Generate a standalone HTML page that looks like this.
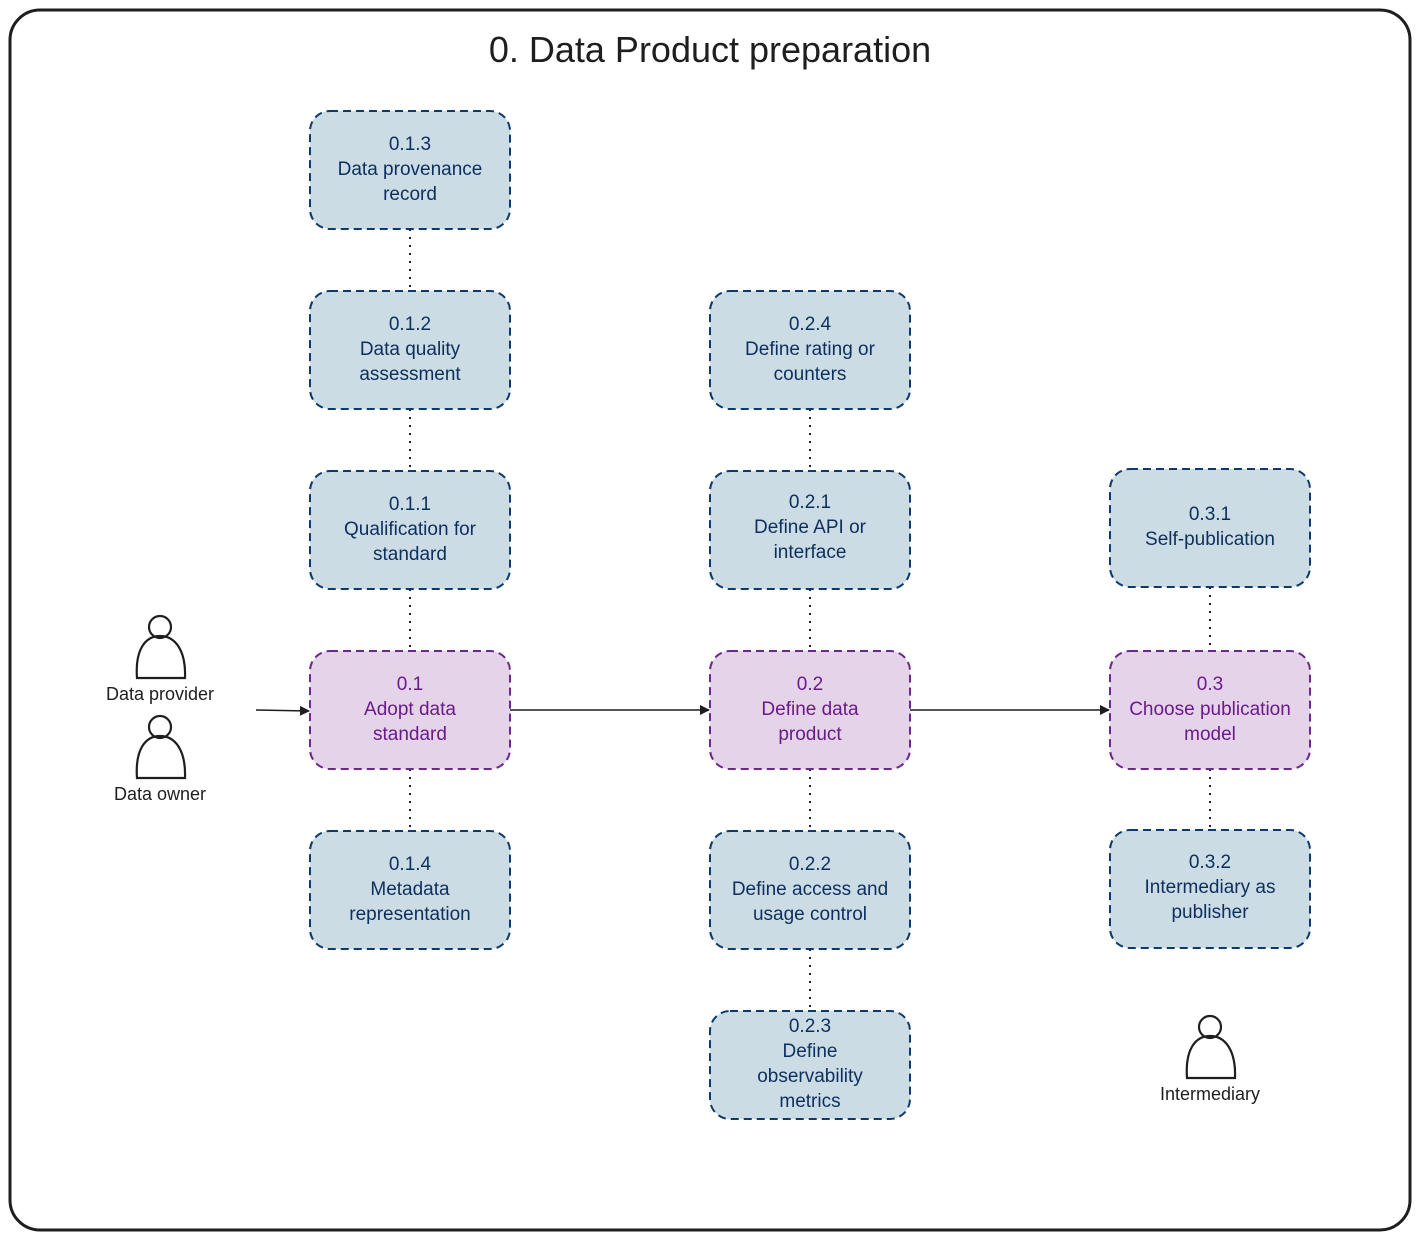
<!DOCTYPE html>
<html><head><style>body{margin:0;background:#fff}</style></head><body>
<svg width="1420" height="1240" xmlns="http://www.w3.org/2000/svg" font-family="Liberation Sans, sans-serif">
<defs><marker id="a" markerWidth="10" markerHeight="10" refX="9" refY="5" orient="auto" markerUnits="userSpaceOnUse"><path d="M0,0 L10,5 L0,10 Z" fill="#1e1e1e"/></marker></defs>
<rect x="10" y="10" width="1400" height="1220" rx="30" fill="#fff" stroke="#1e1e1e" stroke-width="3"/>
<text x="710" y="62" text-anchor="middle" font-size="36" fill="#1e1e1e">0. Data Product preparation</text>
<g stroke="#1e1e1e" stroke-width="2" stroke-dasharray="2,6">
<line x1="410" y1="229" x2="410" y2="291"/><line x1="410" y1="409" x2="410" y2="471"/><line x1="410" y1="589" x2="410" y2="651"/><line x1="410" y1="769" x2="410" y2="831"/>
<line x1="810" y1="409" x2="810" y2="471"/><line x1="810" y1="589" x2="810" y2="651"/><line x1="810" y1="769" x2="810" y2="831"/><line x1="810" y1="949" x2="810" y2="1011"/>
<line x1="1210" y1="587" x2="1210" y2="651"/><line x1="1210" y1="769" x2="1210" y2="830"/>
</g>
<g stroke="#1e1e1e" stroke-width="1.5" marker-end="url(#a)">
<line x1="256" y1="710" x2="309" y2="711"/><line x1="510" y1="710" x2="709" y2="710"/><line x1="910" y1="710" x2="1109" y2="710"/>
</g>
<g stroke="#0e3a6b" stroke-width="2" stroke-dasharray="8,5" fill="#ccdce5">
<rect x="310" y="111" width="200" height="118" rx="20"/><rect x="310" y="291" width="200" height="118" rx="20"/><rect x="310" y="471" width="200" height="118" rx="20"/><rect x="310" y="831" width="200" height="118" rx="20"/>
<rect x="710" y="291" width="200" height="118" rx="20"/><rect x="710" y="471" width="200" height="118" rx="20"/><rect x="710" y="831" width="200" height="118" rx="20"/><rect x="710" y="1011" width="200" height="108" rx="20"/>
<rect x="1110" y="469" width="200" height="118" rx="20"/><rect x="1110" y="830" width="200" height="118" rx="20"/>
</g>
<g stroke="#6b2a8a" stroke-width="2" stroke-dasharray="8,5" fill="#e5d3e9">
<rect x="310" y="651" width="200" height="118" rx="20"/><rect x="710" y="651" width="200" height="118" rx="20"/><rect x="1110" y="651" width="200" height="118" rx="20"/>
</g>
<g font-size="19" text-anchor="middle" fill="#0d2f5e">
<text x="410" y="150">0.1.3</text><text x="410" y="175">Data provenance</text><text x="410" y="200">record</text>
<text x="410" y="330">0.1.2</text><text x="410" y="355">Data quality</text><text x="410" y="380">assessment</text>
<text x="410" y="510">0.1.1</text><text x="410" y="535">Qualification for</text><text x="410" y="560">standard</text>
<text x="410" y="870">0.1.4</text><text x="410" y="895">Metadata</text><text x="410" y="920">representation</text>
<text x="810" y="330">0.2.4</text><text x="810" y="355">Define rating or</text><text x="810" y="380">counters</text>
<text x="810" y="508">0.2.1</text><text x="810" y="533">Define API or</text><text x="810" y="558">interface</text>
<text x="810" y="870">0.2.2</text><text x="810" y="895">Define access and</text><text x="810" y="920">usage control</text>
<text x="810" y="1032">0.2.3</text><text x="810" y="1057">Define</text><text x="810" y="1082">observability</text><text x="810" y="1107">metrics</text>
<text x="1210" y="520">0.3.1</text><text x="1210" y="545">Self-publication</text>
<text x="1210" y="868">0.3.2</text><text x="1210" y="893">Intermediary as</text><text x="1210" y="918">publisher</text>
</g>
<g font-size="19" text-anchor="middle" fill="#6a1b8a">
<text x="410" y="690">0.1</text><text x="410" y="715">Adopt data</text><text x="410" y="740">standard</text>
<text x="810" y="690">0.2</text><text x="810" y="715">Define data</text><text x="810" y="740">product</text>
<text x="1210" y="690">0.3</text><text x="1210" y="715">Choose publication</text><text x="1210" y="740">model</text>
</g>
<g fill="none" stroke="#1e1e1e" stroke-width="2.2">
<circle cx="160" cy="627" r="11"/><path d="M137,678 C135,650 145,636 160,636 C175,636 186,650 185,678 Z"/>
<circle cx="160" cy="727" r="11"/><path d="M137,778 C135,750 145,736 160,736 C175,736 186,750 185,778 Z"/>
<circle cx="1210" cy="1027" r="11"/><path d="M1187,1078 C1185,1050 1195,1036 1210,1036 C1225,1036 1236,1050 1235,1078 Z"/>
</g>
<g font-size="18" text-anchor="middle" fill="#1e1e1e">
<text x="160" y="700">Data provider</text><text x="160" y="800">Data owner</text><text x="1210" y="1100">Intermediary</text>
</g>
</svg>
</body></html>
